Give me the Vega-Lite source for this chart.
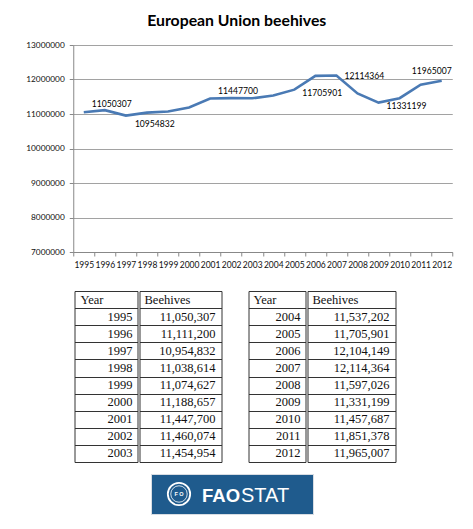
{
  "$schema": "https://vega.github.io/schema/vega-lite/v6.json",
  "description": "European Union beehives 1995-2012, line chart with FAOSTAT tables",
  "background": "white",
  "padding": {"left": 25, "top": 13, "right": 5, "bottom": 5},
  "config": {"view": {"stroke": null}},
  "datasets": {
    "hives": [
      {"Year": 1995, "Beehives": 11050307},
      {"Year": 1996, "Beehives": 11111200},
      {"Year": 1997, "Beehives": 10954832},
      {"Year": 1998, "Beehives": 11038614},
      {"Year": 1999, "Beehives": 11074627},
      {"Year": 2000, "Beehives": 11188657},
      {"Year": 2001, "Beehives": 11447700},
      {"Year": 2002, "Beehives": 11460074},
      {"Year": 2003, "Beehives": 11454954},
      {"Year": 2004, "Beehives": 11537202},
      {"Year": 2005, "Beehives": 11705901},
      {"Year": 2006, "Beehives": 12104149},
      {"Year": 2007, "Beehives": 12114364},
      {"Year": 2008, "Beehives": 11597026},
      {"Year": 2009, "Beehives": 11331199},
      {"Year": 2010, "Beehives": 11457687},
      {"Year": 2011, "Beehives": 11851378},
      {"Year": 2012, "Beehives": 11965007}
    ]
  },
  "spacing": 21,
  "center": true,
  "vconcat": [
    {
      "width": 379, "height": 207,
      "title": {"text": "European Union beehives", "font": "Lato", "fontSize": 15.8, "fontWeight": "bold", "color": "#000", "anchor": "middle", "dx": -26, "offset": 10},
      "data": {"name": "hives"},
      "encoding": {
        "x": {"field": "Year", "type": "ordinal", "title": null,
          "scale": {"paddingInner": 0, "paddingOuter": 0},
          "axis": {"labelAngle": 0, "labelFont": "Lato", "labelFontSize": 8.5, "labelColor": "#111", "labelPadding": 4,
                   "domainColor": "#888", "tickColor": "#888", "tickSize": 4, "tickBand": "extent", "grid": false}},
        "y": {"field": "Beehives", "type": "quantitative", "title": null,
          "scale": {"domain": [7000000, 13000000], "zero": false, "nice": false},
          "axis": {"values": [7000000, 8000000, 9000000, 10000000, 11000000, 12000000, 13000000], "format": "d",
                   "labelFont": "Lato", "labelFontSize": 8.3, "labelColor": "#111", "labelPadding": 5,
                   "grid": true, "gridColor": "#8a8a8a", "gridWidth": 0.8,
                   "domainColor": "#888", "tickColor": "#888", "tickSize": 4}}
      },
      "layer": [
        {"mark": {"type": "line", "color": "#4a7ab4", "strokeWidth": 2.6}},
        {"transform": [{"filter": {"field": "Year", "oneOf": [1995, 2001]}}],
         "mark": {"type": "text", "align": "left", "baseline": "middle", "dx": 8, "dy": -8, "font": "Lato", "fontSize": 8.6, "color": "#000"},
         "encoding": {"text": {"field": "Beehives", "type": "quantitative", "format": "d"}}},
        {"transform": [{"filter": {"field": "Year", "oneOf": [1997]}}],
         "mark": {"type": "text", "align": "left", "baseline": "middle", "dx": 9, "dy": 8, "font": "Lato", "fontSize": 8.6, "color": "#000"},
         "encoding": {"text": {"field": "Beehives", "type": "quantitative", "format": "d"}}},
        {"transform": [{"filter": {"field": "Year", "oneOf": [2005, 2009]}}],
         "mark": {"type": "text", "align": "left", "baseline": "middle", "dx": 8, "dy": 3, "font": "Lato", "fontSize": 8.6, "color": "#000"},
         "encoding": {"text": {"field": "Beehives", "type": "quantitative", "format": "d"}}},
        {"transform": [{"filter": {"field": "Year", "oneOf": [2007]}}],
         "mark": {"type": "text", "align": "left", "baseline": "middle", "dx": 8, "dy": 0, "font": "Lato", "fontSize": 8.6, "color": "#000"},
         "encoding": {"text": {"field": "Beehives", "type": "quantitative", "format": "d"}}},
        {"transform": [{"filter": {"field": "Year", "oneOf": [2012]}}],
         "mark": {"type": "text", "align": "center", "baseline": "middle", "dx": -10, "dy": -10, "font": "Lato", "fontSize": 8.6, "color": "#000"},
         "encoding": {"text": {"field": "Beehives", "type": "quantitative", "format": "d"}}}
      ]
    },
    {
      "spacing": 10,
      "center": true,
      "vconcat": [
        {
          "spacing": 25,
          "hconcat": [
            {
              "spacing": 0,
              "hconcat": [
                {
                  "width": 63, "height": 171,
                  "view": {"stroke": "#333", "strokeWidth": 1},
                  "encoding": {"y": {"field": "Year", "type": "ordinal", "title": null,
                    "scale": {"domain": ["Year", 1995, 1996, 1997, 1998, 1999, 2000, 2001, 2002, 2003], "paddingInner": 0, "paddingOuter": 0},
                    "axis": {"labels": false, "ticks": false, "domain": false, "grid": true, "tickBand": "extent", "gridColor": "#333", "gridOpacity": 1, "gridWidth": 1}}},
                  "layer": [
                    {"data": {"name": "hives"}, "transform": [{"filter": "datum.Year <= 2003"}],
                     "mark": {"type": "text", "align": "right", "baseline": "middle", "dx": -5, "font": "Liberation Serif", "fontSize": 12.5, "color": "#111"},
                     "encoding": {"x": {"value": "width"}, "text": {"field": "Year", "type": "ordinal"}}},
                    {"data": {"values": [{"Year": "Year", "label": "Year"}]},
                     "mark": {"type": "text", "align": "left", "baseline": "middle", "dx": 6, "font": "Liberation Serif", "fontSize": 12.5, "color": "#111"},
                     "encoding": {"x": {"value": 0}, "text": {"field": "label"}}}
                  ]
                },
                {
                  "width": 82, "height": 171,
                  "view": {"stroke": "#333", "strokeWidth": 1},
                  "encoding": {"y": {"field": "Year", "type": "ordinal", "title": null,
                    "scale": {"domain": ["Year", 1995, 1996, 1997, 1998, 1999, 2000, 2001, 2002, 2003], "paddingInner": 0, "paddingOuter": 0},
                    "axis": {"labels": false, "ticks": false, "domain": false, "grid": true, "tickBand": "extent", "gridColor": "#333", "gridOpacity": 1, "gridWidth": 1}}},
                  "layer": [
                    {"data": {"name": "hives"}, "transform": [{"filter": "datum.Year <= 2003"}],
                     "mark": {"type": "text", "align": "right", "baseline": "middle", "dx": -6, "font": "Liberation Serif", "fontSize": 12.5, "color": "#111"},
                     "encoding": {"x": {"value": "width"}, "text": {"field": "Beehives", "type": "quantitative", "format": ","}}},
                    {"data": {"values": [{"Year": "Year", "label": "Beehives"}]},
                     "mark": {"type": "text", "align": "left", "baseline": "middle", "dx": 5, "font": "Liberation Serif", "fontSize": 12.5, "color": "#111"},
                     "encoding": {"x": {"value": 0}, "text": {"field": "label"}}}
                  ]
                }
              ]
            },
            {
              "spacing": 0,
              "hconcat": [
                {
                  "width": 57, "height": 171,
                  "view": {"stroke": "#333", "strokeWidth": 1},
                  "encoding": {"y": {"field": "Year", "type": "ordinal", "title": null,
                    "scale": {"domain": ["Year", 2004, 2005, 2006, 2007, 2008, 2009, 2010, 2011, 2012], "paddingInner": 0, "paddingOuter": 0},
                    "axis": {"labels": false, "ticks": false, "domain": false, "grid": true, "tickBand": "extent", "gridColor": "#333", "gridOpacity": 1, "gridWidth": 1}}},
                  "layer": [
                    {"data": {"name": "hives"}, "transform": [{"filter": "datum.Year >= 2004"}],
                     "mark": {"type": "text", "align": "right", "baseline": "middle", "dx": -5, "font": "Liberation Serif", "fontSize": 12.5, "color": "#111"},
                     "encoding": {"x": {"value": "width"}, "text": {"field": "Year", "type": "ordinal"}}},
                    {"data": {"values": [{"Year": "Year", "label": "Year"}]},
                     "mark": {"type": "text", "align": "left", "baseline": "middle", "dx": 5, "font": "Liberation Serif", "fontSize": 12.5, "color": "#111"},
                     "encoding": {"x": {"value": 0}, "text": {"field": "label"}}}
                  ]
                },
                {
                  "width": 88, "height": 171,
                  "view": {"stroke": "#333", "strokeWidth": 1},
                  "encoding": {"y": {"field": "Year", "type": "ordinal", "title": null,
                    "scale": {"domain": ["Year", 2004, 2005, 2006, 2007, 2008, 2009, 2010, 2011, 2012], "paddingInner": 0, "paddingOuter": 0},
                    "axis": {"labels": false, "ticks": false, "domain": false, "grid": true, "tickBand": "extent", "gridColor": "#333", "gridOpacity": 1, "gridWidth": 1}}},
                  "layer": [
                    {"data": {"name": "hives"}, "transform": [{"filter": "datum.Year >= 2004"}],
                     "mark": {"type": "text", "align": "right", "baseline": "middle", "dx": -6, "font": "Liberation Serif", "fontSize": 12.5, "color": "#111"},
                     "encoding": {"x": {"value": "width"}, "text": {"field": "Beehives", "type": "quantitative", "format": ","}}},
                    {"data": {"values": [{"Year": "Year", "label": "Beehives"}]},
                     "mark": {"type": "text", "align": "left", "baseline": "middle", "dx": 5, "font": "Liberation Serif", "fontSize": 12.5, "color": "#111"},
                     "encoding": {"x": {"value": 0}, "text": {"field": "label"}}}
                  ]
                }
              ]
            },
            {"width": 30, "height": 1, "data": {"values": []}, "mark": "point"}
          ]
        },
        {
          "spacing": 0,
          "hconcat": [
            {
              "width": 162, "height": 40,
              "view": {"fill": "#1f5b8d", "stroke": "#d8dde3", "strokeWidth": 1},
              "data": {"values": [{"name": "FAOSTAT"}]},
              "layer": [
                {"mark": {"type": "point", "shape": "circle", "size": 500, "filled": false, "stroke": "white", "strokeWidth": 1.8, "opacity": 1, "xOffset": -53}},
                {"mark": {"type": "point", "shape": "circle", "size": 270, "filled": false, "stroke": "white", "strokeWidth": 0.8, "opacity": 1, "xOffset": -53}},
                {"data": {"values": [{"t": "F   O"}]},
                 "mark": {"type": "text", "align": "center", "baseline": "middle", "xOffset": -53, "font": "Liberation Sans", "fontSize": 5.5, "fontWeight": "bold", "color": "white"},
                 "encoding": {"text": {"field": "t"}}},
                {"data": {"values": [{"t": "FAO"}]},
                 "mark": {"type": "text", "align": "left", "baseline": "middle", "dx": -30, "dy": 1.5, "font": "Liberation Sans", "fontSize": 18.5, "fontWeight": "bold", "color": "white"},
                 "encoding": {"text": {"field": "t"}}},
                {"data": {"values": [{"t": "STAT"}]},
                 "mark": {"type": "text", "align": "left", "baseline": "middle", "dx": 9, "dy": 1.5, "font": "Liberation Sans", "fontSize": 20, "fontWeight": "normal", "color": "white"},
                 "encoding": {"text": {"field": "t"}}}
              ]
            },
            {"width": 61, "height": 1, "data": {"values": []}, "mark": "point"}
          ]
        }
      ]
    }
  ]
}
